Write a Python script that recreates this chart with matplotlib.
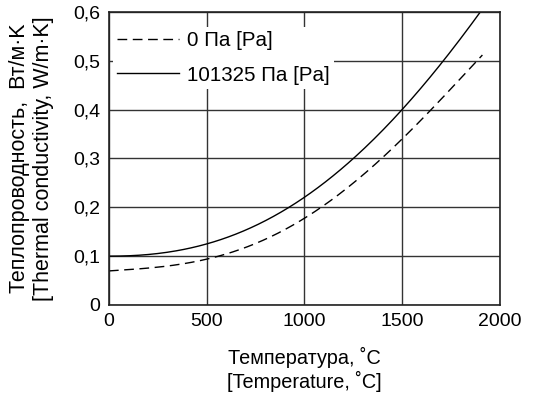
import numpy as np
import matplotlib.pyplot as plt
from matplotlib.ticker import FuncFormatter

plt.rcParams['font.family'] = ['Liberation Sans', 'DejaVu Sans']

temp_vac = [0, 250, 500, 750, 1000, 1250, 1500, 1700, 1910]
k_vac = [0.070, 0.076, 0.095, 0.127, 0.175, 0.250, 0.342, 0.420, 0.512]

temp_atm = [0, 250, 500, 750, 1000, 1250, 1500, 1700, 1900]
k_atm = [0.100, 0.105, 0.125, 0.163, 0.220, 0.300, 0.400, 0.495, 0.600]

label_vac = "0 Па [Pa]"
label_atm = "101325 Па [Pa]"


def smooth(x, y):
    xs = np.linspace(x[0], x[-1], 200)
    c = np.polyfit(x, y, 4)
    return xs, np.polyval(c, xs)


fig = plt.figure(figsize=(5.42, 3.95), dpi=100)
ax = fig.add_axes([0.201, 0.228, 0.7215, 0.742])

xv, yv = smooth(temp_vac, k_vac)
xa, ya = smooth(temp_atm, k_atm)
ax.plot(xv, yv, color='black', lw=1.0, dashes=(7, 4), label=label_vac)
ax.plot(xa, ya, color='black', lw=1.0, label=label_atm)

ax.set_xlim(0, 2000)
ax.set_ylim(0, 0.6)
ax.set_xticks([0, 500, 1000, 1500, 2000])
ax.set_yticks([0, 0.1, 0.2, 0.3, 0.4, 0.5, 0.6])
ax.yaxis.set_major_formatter(FuncFormatter(
    lambda v, p: "0" if v == 0 else ("%.1f" % v).replace(".", ",")))
ax.tick_params(length=0, labelsize=14, pad=6)
ax.grid(True, color='#333333', lw=1.0)
for s in ax.spines.values():
    s.set_linewidth(1.2)
    s.set_color('#222222')

ax.set_xlabel("Температура, ˚C\n[Temperature, ˚C]", fontsize=14.3, labelpad=12,
              linespacing=1.2)
ax.set_ylabel("Теплопроводность,  Вт/м·K\n[Thermal conductivity, W/m·K]",
              fontsize=15.5, labelpad=14, linespacing=1.2)

leg = ax.legend(loc='upper left', bbox_to_anchor=(0.01, 0.948), fontsize=14.8,
                frameon=True, handlelength=3.0, labelspacing=0.75,
                borderaxespad=0, borderpad=0.2, handletextpad=0.4)
leg.get_frame().set_facecolor('white')
leg.get_frame().set_edgecolor('none')
leg.get_frame().set_alpha(1)

fig.savefig("out.png", dpi=100)
